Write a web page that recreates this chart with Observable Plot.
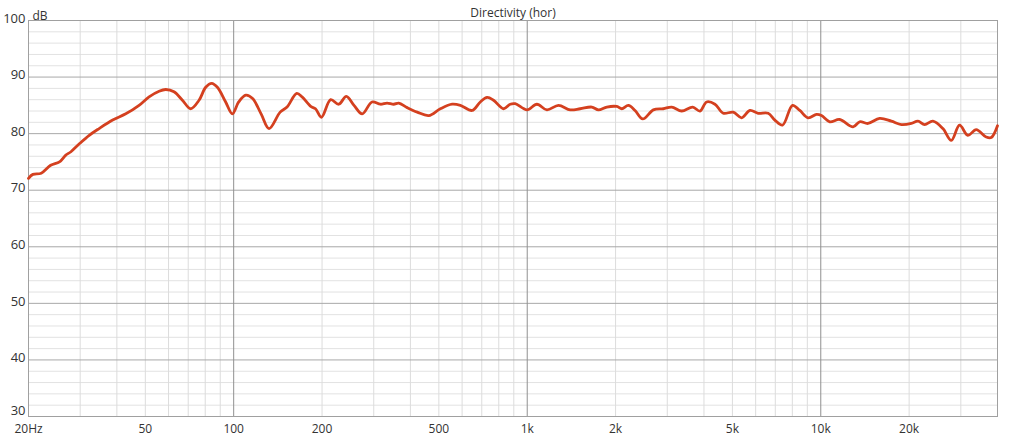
<!DOCTYPE html>
<html>
<head>
<meta charset="utf-8">
<script src="https://cdn.jsdelivr.net/npm/d3@7"></script>
<script src="https://cdn.jsdelivr.net/npm/@observablehq/plot@0.6"></script>
<style>
  html, body { margin: 0; padding: 0; background: #fff; }
  #chart svg { display: block; }
</style>
</head>
<body>
<div id="chart"></div>
<script>
const freqHz = [20, 20.7, 22.1, 23.8, 25.5, 26.8, 27.9, 29.8, 32.2, 34.8, 38.7, 42.9, 47.6, 51.5, 55.7, 58.7, 62.6, 66.9, 71.4, 76.2,
  80.3, 84.2, 88, 93.9, 99, 104, 110, 116, 124, 132, 144, 152, 164, 171, 183, 190, 199, 214, 228, 242,
  257, 274, 296, 316, 333, 351, 365, 390, 422, 462, 506, 555, 592, 649, 692, 730, 768, 831, 875, 910,
  998, 1079, 1167, 1278, 1401, 1515, 1660, 1748, 1867, 2019, 2100, 2211, 2330, 2475, 2689, 2908, 3106, 3359, 3662, 3877,
  4086, 4361, 4654, 5032, 5375, 5736, 6120, 6618, 6976, 7409, 8012, 8485, 9056, 9670, 10055, 10730, 11600, 12880, 13570, 14490,
  15870, 17400, 18820, 20350, 21430, 22580, 24100, 26060, 27840, 29700, 31700, 33850, 36600, 38070, 40000];
const levelDb = [72.1, 72.8, 73.0, 74.4, 75.0, 76.2, 76.8, 78.2, 79.7, 80.9, 82.4, 83.5, 85.0, 86.5, 87.5, 87.8, 87.4, 85.9, 84.4, 85.9,
  88.2, 88.9, 88.2, 85.6, 83.5, 85.6, 86.8, 86.2, 83.5, 80.9, 83.8, 84.7, 87.1, 86.5, 84.8, 84.4, 82.9, 86.0, 85.2, 86.6,
  85.0, 83.5, 85.6, 85.2, 85.4, 85.2, 85.4, 84.6, 83.8, 83.2, 84.4, 85.2, 85.0, 84.1, 85.6, 86.4, 85.9, 84.4, 85.2, 85.3,
  84.2, 85.2, 84.2, 85.0, 84.2, 84.4, 84.7, 84.2, 84.7, 84.8, 84.4, 85.0, 84.1, 82.6, 84.2, 84.4, 84.7, 84.0, 84.7, 84.0,
  85.6, 85.2, 83.6, 83.8, 82.8, 84.1, 83.6, 83.6, 82.4, 81.5, 85.0, 84.1, 82.8, 83.4, 83.2, 82.1, 82.5, 81.2, 82.1, 81.8,
  82.7, 82.2, 81.6, 81.8, 82.2, 81.6, 82.2, 80.9, 78.8, 81.5, 79.7, 80.7, 79.4, 79.3, 81.4];

const xTicks = [20, 50, 100, 200, 500, 1000, 2000, 5000, 10000, 20000];
const xTickLabels = ["20Hz", "50", "100", "200", "500", "1k", "2k", "5k", "10k", "20k"];
const yTicks = [30, 40, 50, 60, 70, 80, 90, 100];
const xMajorGrid = [100, 1000, 10000];
const xMinorGrid = [30, 40, 50, 60, 70, 80, 90, 200, 300, 400, 500, 600, 700, 800, 900,
  2000, 3000, 4000, 5000, 6000, 7000, 8000, 9000, 20000, 30000];
const yMinorGrid = [32, 34, 36, 38, 42, 44, 46, 48, 52, 54, 56, 58, 62, 64, 66, 68, 72, 74, 76, 78, 82, 84, 86, 88, 92, 94, 96, 98];
const chartTitle = "Directivity (hor)";
const yUnit = "dB";

const data = freqHz.map((f, i) => ({f, db: levelDb[i]}));
const xLabelData = xTicks.map((t, i) => ({t, label: xTickLabels[i]}));
const yLow = yTicks[0];

const chart = Plot.plot({
  width: 1024,
  height: 437,
  marginLeft: 28,
  marginRight: 27,
  marginTop: 20,
  marginBottom: 21,
  style: {fontFamily: "'Open Sans', 'DejaVu Sans', sans-serif", fontSize: "12px", color: "#333", background: "#fff"},
  x: {type: "log", domain: [20, 40000], axis: null},
  y: {domain: [30, 100], axis: null},
  marks: [
    Plot.ruleY(yMinorGrid, {stroke: "#e2e2e2", strokeWidth: 1}),
    Plot.ruleX(xMinorGrid, {stroke: "#dcdcdc", strokeWidth: 1}),
    Plot.ruleY(yTicks, {stroke: "#a8a8a8", strokeWidth: 1}),
    Plot.ruleX(xMajorGrid, {stroke: "#909090", strokeWidth: 1}),
    Plot.frame({stroke: "#a0a0a0"}),
    Plot.text(xLabelData, {x: "t", text: "label", frameAnchor: "bottom", dy: 13, lineAnchor: "middle", fontSize: 12, fill: "#333"}),
    Plot.text(yTicks.filter(d => d !== yLow), {y: d => d, text: d => String(d), frameAnchor: "left", dx: -3, dy: -2, textAnchor: "end", lineAnchor: "middle", fontSize: 13, fill: "#333"}),
    Plot.text([yLow], {y: d => d, text: d => String(d), frameAnchor: "left", dx: -3, dy: -6, textAnchor: "end", lineAnchor: "middle", fontSize: 13, fill: "#333"}),
    Plot.line(data, {x: "f", y: "db", curve: "catmull-rom", stroke: "#d4401f", strokeWidth: 2.8}),
    Plot.text([chartTitle], {frameAnchor: "top", dy: -12, fontSize: 12, fill: "#333"}),
    Plot.text([yUnit], {frameAnchor: "top-left", dx: 4, dy: -9, textAnchor: "start", fontSize: 12, fill: "#333"})
  ]
});
document.getElementById("chart").appendChild(chart);
</script>
</body>
</html>
